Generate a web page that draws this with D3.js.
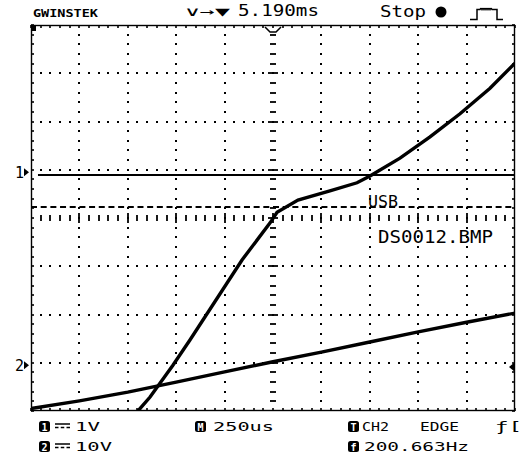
<!DOCTYPE html>
<html><head><meta charset="utf-8">
<script src="https://cdn.jsdelivr.net/npm/d3@7"></script>
<style>html,body{margin:0;padding:0;background:#fff}svg{display:block}</style>
</head><body><svg id="c" width="524" height="462"></svg>
<script>
// ---- data ----
const timeDomain = [-1250, 1250];          // µs, 250 µs/div, 10 divisions
const divDomain = [-4, 4];                 // vertical divisions from centre
const shallowTime = [-1250,-1000,-750,-500,-250,0,250,500,750,1000,1250];
const shallowDiv  = [-3.95,-3.79,-3.61,-3.40,-3.19,-2.98,-2.78,-2.57,-2.36,-2.16,-1.97];
const steepTime = [-702,-635,-517,-429,-160,-15,21,129,294,434,501,656,811,966,1121,1255];
const steepDiv  = [-4.02,-3.71,-3.05,-2.53,-0.87,-0.10,0.12,0.37,0.56,0.73,0.87,1.24,1.68,2.16,2.69,3.23];
const flatTime = [-1214, 1250];
const flatDiv  = [0.89, 0.89];
const cursorDiv = 0.23;
const groundMarkers = [{label:"1", div:0.95}, {label:"2", div:-3.05}];
const trigLevelDiv = -3.09;
const headerTexts = ["GWINSTEK", "∨→▼", "5.190ms", "Stop"];
const footerRow1 = ["1V", "250us", "CH2", "EDGE", "ƒ["];
const footerRow2 = ["10V", "200.663Hz"];
const fileLabels = ["USB", "DS0012.BMP"];

// ---- scales ----
const L=31, R=515, T=25, B=411;
const x = d3.scaleLinear().domain(timeDomain).range([L, R]);
const y = d3.scaleLinear().domain(divDomain).range([B, T]);
const svg = d3.select("#c");
const font = "'DejaVu Sans Mono', monospace";

// clip
svg.append("defs").append("clipPath").attr("id","clip")
  .append("rect").attr("x",L).attr("y",T).attr("width",R-L).attr("height",B-T);

const g = svg.append("g");
const minorX = d3.range(timeDomain[0], timeDomain[1]+1, 50);
const minorY = d3.range(-40, 41, 2).map(d=>d/10);
const majorX = d3.range(timeDomain[0], timeDomain[1]+1, 250);
const majorY = d3.range(-4, 5, 1);

// grid dots on horizontal lines
majorY.filter(v=>v!==-4 && v!==4 && v!==0).forEach(v=>{
  g.selectAll(null).data(minorX.filter(t=>t>timeDomain[0] && t<timeDomain[1])).enter()
   .append("rect").attr("x",t=>Math.round(x(t))-1).attr("y",Math.round(y(v))-1)
   .attr("width",2).attr("height",2).attr("fill","#000");
});
// grid dots on vertical lines
majorX.filter(t=>t!==timeDomain[0] && t!==timeDomain[1] && t!==0).forEach(t=>{
  g.selectAll(null).data(minorY.filter(v=>v>-4 && v<4)).enter()
   .append("rect").attr("x",Math.round(x(t))-1).attr("y",v=>Math.round(y(v))-1)
   .attr("width",2).attr("height",2).attr("fill","#000");
});
// centre horizontal tick row
minorX.filter(t=>t>timeDomain[0] && t<timeDomain[1]).forEach(t=>{
  const major = (t % 250 === 0);
  g.append("line").attr("x1",Math.round(x(t))).attr("x2",Math.round(x(t)))
   .attr("y1",y(0)-(major?5:3)).attr("y2",y(0)+(major?5:3))
   .attr("stroke","#000").attr("stroke-width",1.8);
});
// centre vertical tick column
minorY.filter(v=>v>-4 && v<4).forEach(v=>{
  const major = Math.abs(v - Math.round(v)) < 1e-6;
  g.append("line").attr("y1",Math.round(y(v))).attr("y2",Math.round(y(v)))
   .attr("x1",x(0)-(major?5:3)).attr("x2",x(0)+(major?5:3))
   .attr("stroke","#000").attr("stroke-width",1.8);
});
// border
g.append("rect").attr("x",L+0.5).attr("y",T+0.5).attr("width",R-L-1).attr("height",B-T-1)
 .attr("fill","none").attr("stroke","#000").attr("stroke-width",1.4);
// border ticks
minorX.forEach(t=>{
  const px = Math.round(x(t));
  g.append("line").attr("x1",px).attr("x2",px).attr("y1",T).attr("y2",T+3).attr("stroke","#000").attr("stroke-width",1.6);
  g.append("line").attr("x1",px).attr("x2",px).attr("y1",B-3).attr("y2",B).attr("stroke","#000").attr("stroke-width",1.6);
});
minorY.forEach(v=>{
  const py = Math.round(y(v));
  g.append("line").attr("y1",py).attr("y2",py).attr("x1",L).attr("x2",L+3).attr("stroke","#000").attr("stroke-width",1.6);
  g.append("line").attr("y1",py).attr("y2",py).attr("x1",R-3).attr("x2",R).attr("stroke","#000").attr("stroke-width",1.6);
});
// corner marker
g.append("rect").attr("x",L+1).attr("y",T+1).attr("width",4).attr("height",5).attr("fill","#000");

// ---- traces ----
const tg = svg.append("g").attr("clip-path","url(#clip)");
const line = d3.line().x(d=>x(d[0])).y(d=>y(d[1]));
// dashed cursor
tg.append("line").attr("x1",x(timeDomain[0])).attr("x2",x(timeDomain[1]))
  .attr("y1",y(cursorDiv)).attr("y2",y(cursorDiv))
  .attr("stroke","#000").attr("stroke-width",2).attr("stroke-dasharray","6,3.68");
tg.append("path").datum(d3.zip(flatTime, flatDiv)).attr("d",line)
  .attr("fill","none").attr("stroke","#000").attr("stroke-width",2);
tg.append("path").datum(d3.zip(shallowTime, shallowDiv)).attr("d",line)
  .attr("fill","none").attr("stroke","#000").attr("stroke-width",3.4);
tg.append("path").datum(d3.zip(steepTime, steepDiv)).attr("d",line)
  .attr("fill","none").attr("stroke","#000").attr("stroke-width",3.4);

// trigger position marker (top)
svg.append("path").attr("d",`M${x(0)-8},${T+2} L${x(0)-3},${T+7} L${x(0)+3},${T+7} L${x(0)+8},${T+2}`)
  .attr("fill","none").attr("stroke","#000").attr("stroke-width",1.5);
// trigger level marker (right)
svg.append("path").attr("d",`M${R-6},${y(trigLevelDiv)} L${R},${y(trigLevelDiv)-5} L${R},${y(trigLevelDiv)+5} Z`).attr("fill","#000");

// ground markers
groundMarkers.forEach(m=>{
  const py = y(m.div);
  svg.append("text").attr("x",15).attr("y",py+5.5).text(m.label)
    .attr("font-family",font).attr("font-size",15).attr("fill","#000");
  svg.append("path").attr("d",`M24,${py-4} L29,${py} L24,${py+4} Z`).attr("fill","#000");
});

// file labels
svg.append("text").attr("x",368).attr("y",207).text(fileLabels[0])
  .attr("font-family",font).attr("font-size",16).attr("textLength",30).attr("lengthAdjust","spacingAndGlyphs");
svg.append("text").attr("x",378).attr("y",243).text(fileLabels[1])
  .attr("font-family",font).attr("font-size",17).attr("textLength",115).attr("lengthAdjust","spacingAndGlyphs");

// ---- header ----
function txt(s, px, py, size, len, weight){
  const t = svg.append("text").attr("x",px).attr("y",py).text(s)
    .attr("font-family",font).attr("font-size",size).attr("fill","#000");
  if(len) t.attr("textLength",len).attr("lengthAdjust","spacingAndGlyphs");
  if(weight) t.attr("font-weight",weight);
  return t;
}
txt(headerTexts[0], 33, 17, 10, 65, "bold");
txt(headerTexts[1], 185, 16, 13, 45);
txt(headerTexts[2], 238, 16, 15.5, 81);
txt(headerTexts[3], 380, 17, 15, 46);
svg.append("circle").attr("cx",441).attr("cy",12).attr("r",5.5).attr("fill","#000");
svg.append("path").attr("d","M470,19.5 H477 V9.5 H480 q1,-2 2,0 q1,-2 2,0 q1,-2 2,0 q1,-2 2,0 q1,-2 2,0 q1,-2 2,0 H497 V19.5 H503")
  .attr("fill","none").attr("stroke","#000").attr("stroke-width",1.5);

// ---- footer ----
function badge(px, py, s){
  svg.append("rect").attr("x",px).attr("y",py).attr("width",11).attr("height",11).attr("rx",2.5).attr("fill","#000");
  svg.append("text").attr("x",px+5.5).attr("y",py+9.5).attr("text-anchor","middle").text(s)
    .attr("font-family",font).attr("font-size",10).attr("font-weight","bold").attr("fill","#fff");
}
function dc(px, py){
  svg.append("line").attr("x1",px).attr("x2",px+15).attr("y1",py).attr("y2",py).attr("stroke","#000").attr("stroke-width",1.5);
  svg.append("line").attr("x1",px).attr("x2",px+15).attr("y1",py+3.5).attr("y2",py+3.5).attr("stroke","#000").attr("stroke-width",1.5).attr("stroke-dasharray","3.5,2.25");
}
badge(39, 421, "1"); dc(55, 424); txt(footerRow1[0], 75, 431, 13, 25);
badge(39, 441, "2"); dc(55, 444); txt(footerRow2[0], 75, 451, 13, 37);
badge(195, 421, "M"); txt(footerRow1[1], 213, 431, 13, 61);
badge(348, 421, "T"); txt(footerRow1[2], 362, 431, 13, 27);
txt(footerRow1[3], 420, 431, 13, 39);
txt(footerRow1[4], 495, 431, 13, 27);
badge(348, 441, "f"); txt(footerRow2[1], 364, 451, 13, 105);
</script></body></html>
